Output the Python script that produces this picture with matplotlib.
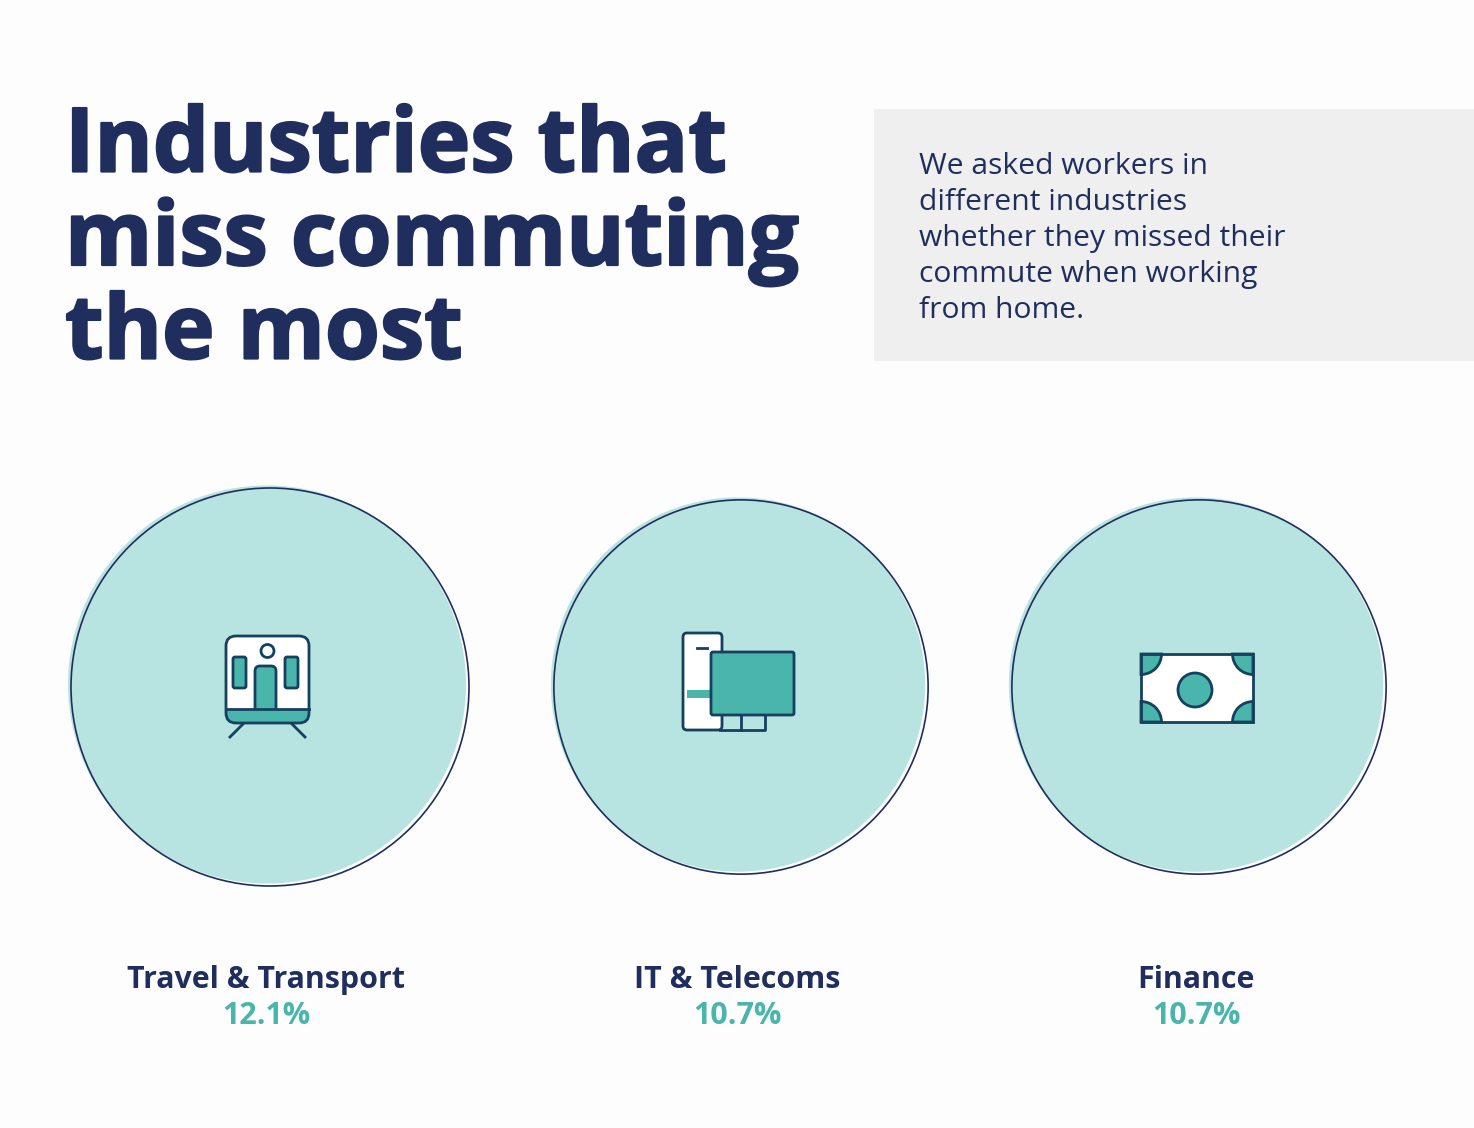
# -*- coding: utf-8 -*-
import numpy as np
import matplotlib
matplotlib.use('Agg')
import matplotlib.pyplot as plt
import matplotlib.patheffects as pe
from matplotlib.patches import Circle, Rectangle, FancyBboxPatch, Wedge

# data
industries = ['Travel & Transport', 'IT & Telecoms', 'Finance']
shares = [12.1, 10.7, 10.7]
title_lines = ['Industries that', 'miss commuting', 'the most']
intro_lines = ['We asked workers in', 'different industries', 'whether they missed their',
               'commute when working', 'from home.']

NAVY = '#202e5e'
LINE = '#15405f'
TEAL = '#4ab5ab'
LIGHT = '#b7e3e0'
BG = '#fdfdfd'
LW = 2.0

plt.rcParams['font.family'] = ['Open Sans', 'DejaVu Sans']

W, H = 1474, 1128
fig = plt.figure(figsize=(W / 100, H / 100), dpi=100, facecolor=BG)
ax = fig.add_axes([0, 0, 1, 1])
ax.set_xlim(0, W)
ax.set_ylim(H, 0)
ax.axis('off')

# heading, stroked because the original is heavier than Open Sans Bold
for i, line in enumerate(title_lines):
    ax.text(65, 171.5 + i * 93.5, line, fontsize=64, fontweight='bold', color=NAVY, va='baseline', ha='left',
            path_effects=[pe.withStroke(linewidth=1.6, foreground=NAVY)])

# intro box
ax.add_patch(Rectangle((874, 109), 600, 252, facecolor='#efefef', edgecolor='none'))
for i, line in enumerate(intro_lines):
    ax.text(919, 174 + i * 36, line, fontsize=21.6, color=NAVY, va='baseline', ha='left')

# circles: area follows the share
centres = [(270, 687), (741, 687), (1199, 687)]
k = 199 / np.sqrt(shares[0])
for (cx, cy), v in zip(centres, shares):
    r = k * np.sqrt(v)
    ax.add_patch(Circle((cx - 3, cy - 2.5), r, facecolor=LIGHT, edgecolor='none', zorder=1))
    ax.add_patch(Circle((cx, cy), r, facecolor='none', edgecolor=NAVY, lw=1.2, zorder=2))

# labels
label_x = [266, 737, 1196]
for x, name, v in zip(label_x, industries, shares):
    ax.text(x, 988, name, fontsize=21.9, fontweight='bold', color=NAVY, ha='center', va='baseline')
    ax.text(x + 0.5, 1024, f'{v}%', fontsize=22, fontweight='bold', color=TEAL, ha='center', va='baseline')


def rrect(x, y, w, h, rad, fc, ec=LINE, lw=LW, z=3):
    patch = FancyBboxPatch((x + rad, y + rad), w - 2 * rad, h - 2 * rad,
                           boxstyle=f'round,pad={rad},rounding_size={rad}',
                           facecolor=fc, edgecolor=ec, lw=lw, zorder=z)
    ax.add_patch(patch)
    return patch


# train icon
body = rrect(226, 636, 83, 87, 10, 'white', ec='none')
rrect(233, 657, 13, 31, 2, TEAL)
rrect(285, 657, 13, 31, 2, TEAL)
rrect(255, 666, 21, 50, 5, TEAL)
band = Rectangle((226, 709), 83, 14, facecolor=TEAL, edgecolor='none', zorder=4)
ax.add_patch(band)
band.set_clip_path(body)
rrect(226, 636, 83, 87, 10, 'none', z=4.3)
ax.plot([226, 309], [709, 709], color=LINE, lw=LW, zorder=4.3)
ax.add_patch(Circle((267.5, 651), 6.5, facecolor='white', edgecolor=LINE, lw=LW, zorder=4))
ax.plot([243, 230], [724, 737], color=LINE, lw=LW, zorder=2.5)
ax.plot([292, 305], [724, 737], color=LINE, lw=LW, zorder=2.5)

# phone + monitor icon
rrect(683, 633, 39, 97, 4, 'white')
ax.add_patch(Rectangle((687, 690), 24, 8, facecolor=TEAL, edgecolor='none', zorder=4))
ax.plot([697, 707], [648, 648], color=LINE, lw=LW, zorder=4)
ax.plot([720, 765, 765], [730, 730, 715], color=LINE, lw=LW, zorder=3)
ax.plot([741, 741], [715, 730], color=LINE, lw=LW, zorder=3)
rrect(711, 652, 83, 63, 2, TEAL, z=5)

# banknote icon
ax.add_patch(Rectangle((1141, 654), 112, 68, facecolor='white', edgecolor='none', zorder=3))
corners = [(1141, 654, 0, 90), (1253, 654, 90, 180), (1141, 722, 270, 360), (1253, 722, 180, 270)]
for x, y, a, b in corners:
    ax.add_patch(Wedge((x, y), 20.5, a, b, facecolor=TEAL, edgecolor=LINE, lw=LW, zorder=4))
ax.add_patch(Rectangle((1141, 654), 112, 68, facecolor='none', edgecolor=LINE, lw=LW, zorder=5))
ax.add_patch(Circle((1195, 690), 17, facecolor=TEAL, edgecolor=LINE, lw=LW, zorder=4))

fig.savefig('out.png', dpi=100, facecolor=BG)
